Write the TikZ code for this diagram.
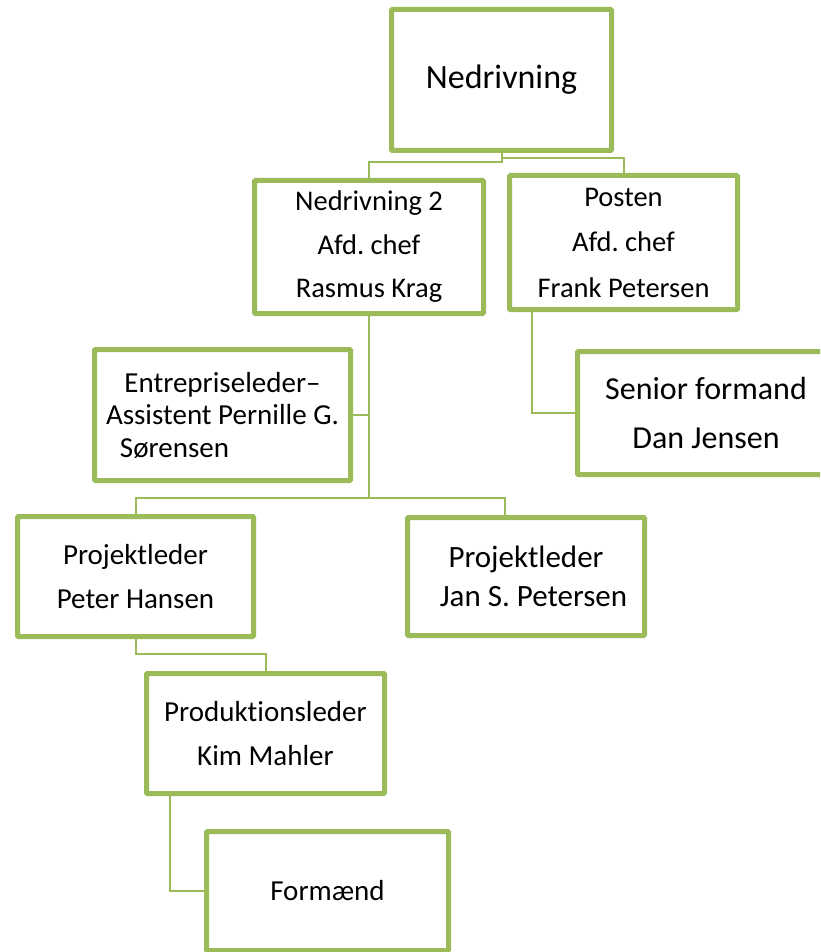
\documentclass[tikz,border=0pt]{standalone}
\usepackage{fontspec}
\setmainfont{Carlito}[Ligatures=NoCommon]
\frenchspacing
\definecolor{chartgreen}{HTML}{9BBB59}

\begin{document}
\begin{tikzpicture}[x=1pt,y=-1pt,
	orgbox/.style={draw=chartgreen,line width=5pt,fill=white,rounded corners=1pt,inner sep=0pt,align=center},
	link/.style={draw=chartgreen,line width=2pt}]
	\useasboundingbox (0,0) rectangle (820,952);
	\clip (0,0) rectangle (820,952);
	% boxes
	\node[orgbox,minimum width=220pt,minimum height=141pt,font={\fontsize{34}{41}\selectfont}] (top) at (501.5,80) {Nedrivning};
	\node[orgbox,minimum width=229pt,minimum height=133pt,font={\fontsize{28.5}{43.5}\selectfont}] (ned2) at (369,247) {Nedrivning 2\\Afd. chef\\Rasmus Krag};
	\node[orgbox,minimum width=228pt,minimum height=134pt,font={\fontsize{28.5}{45.5}\selectfont}] (posten) at (623.5,242.5) {Posten\\Afd. chef\\Frank Petersen};
	\node[orgbox,minimum width=256pt,minimum height=131pt,font={\fontsize{29}{32.5}\selectfont}] (entr) at (222.5,415) {Entrepriseleder–\\Assistent Pernille G.\\Sørensen\hspace*{96pt}};
	\node[orgbox,minimum width=257pt,minimum height=123pt,font={\fontsize{32}{49}\selectfont}] (senior) at (706,413) {Senior formand\\Dan Jensen};
	\node[orgbox,minimum width=236pt,minimum height=120pt,font={\fontsize{29}{44}\selectfont}] (peter) at (135.5,576.5) {Projektleder\\Peter Hansen};
	\node[orgbox,minimum width=237pt,minimum height=118pt,font={\fontsize{31}{39}\selectfont}] (jan) at (526,576.5) {Projektleder\\\hspace*{15pt}Jan S. Petersen};
	\node[orgbox,minimum width=238pt,minimum height=120pt,font={\fontsize{29}{44}\selectfont}] (prod) at (265.5,733.5) {Produktionsleder\\Kim Mahler};
	\node[orgbox,minimum width=242pt,minimum height=119pt,font={\fontsize{29}{35}\selectfont}] (formaend) at (327.5,891) {Formænd};
	% connectors
	\draw[link] (top.south) -- ++(0,9) -| (ned2.north);
	\draw[link] (top.south) -- ++(0,5) -| (posten.north);
	\draw[link] (ned2.south) |- (entr.east);
	\draw[link] (ned2.south) -- ++(0,182) -| (peter.north);
	\draw[link] (ned2.south) -- ++(0,182) -| ([xshift=-21pt]jan.north);
	\draw[link] ([xshift=-91.5pt]posten.south) |- (senior.west);
	\draw[link] (peter.south) -- ++(0,15) -| (prod.north);
	\draw[link] ([xshift=-95.5pt]prod.south) |- (formaend.west);
\end{tikzpicture}
\end{document}
